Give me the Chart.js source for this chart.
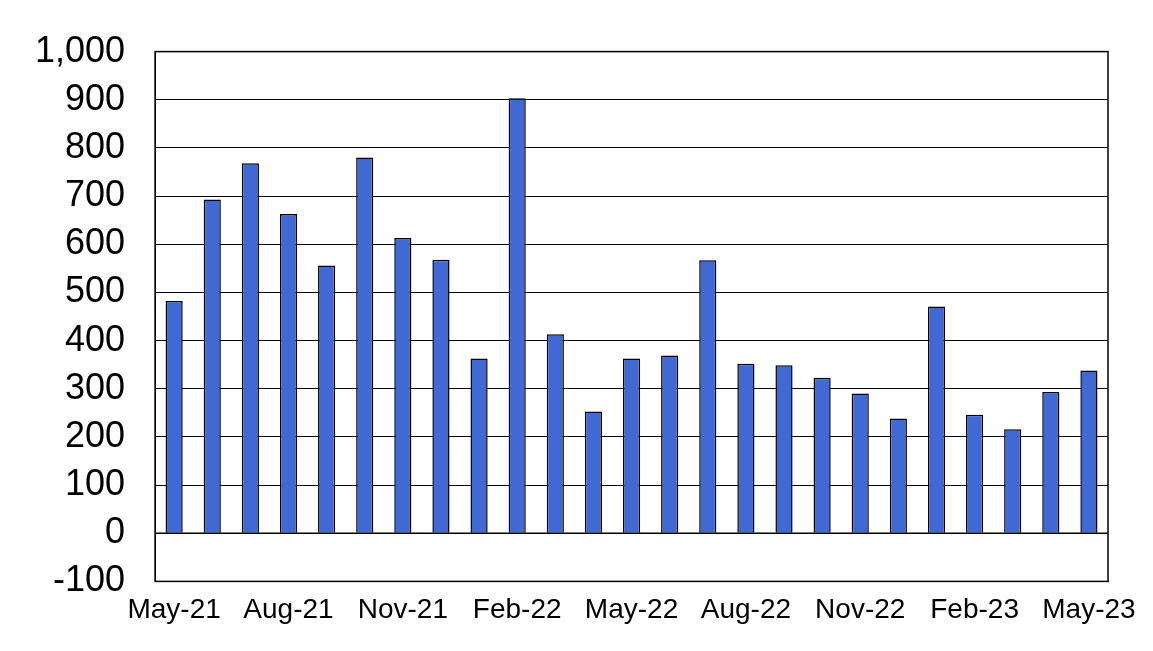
<!DOCTYPE html>
<html><head><script src="https://cdn.jsdelivr.net/npm/chart.js"></script>
<style>body{margin:0;background:#fff}#w{width:1153px;height:651px}</style></head>
<body><div id="w"><canvas id="c"></canvas></div>
<script>
const categories=["May-21","Jun-21","Jul-21","Aug-21","Sep-21","Oct-21","Nov-21","Dec-21","Jan-22","Feb-22","Mar-22","Apr-22","May-22","Jun-22","Jul-22","Aug-22","Sep-22","Oct-22","Nov-22","Dec-22","Jan-23","Feb-23","Mar-23","Apr-23","May-23"];
const values=[482,693,768,663,556,780,613,568,363,903,413,253,363,369,567,352,349,323,290,238,471,246,216,293,338];
const frame={id:'frame',afterDraw(ch){const a=ch.chartArea,c=ch.ctx;c.save();c.strokeStyle='#000';c.lineWidth=1.5;c.strokeRect(a.left,a.top,a.right-a.left,a.bottom-a.top);
const y0=ch.scales.y.getPixelForValue(0);c.beginPath();c.moveTo(a.left,y0);c.lineTo(a.right,y0);c.stroke();c.restore();}};
new Chart(document.getElementById('c'),{type:'bar',data:{labels:categories,datasets:[{data:values,backgroundColor:'#4169D4',borderColor:'#000',borderWidth:1.5,barPercentage:0.45,categoryPercentage:1}]},
options:{responsive:true,maintainAspectRatio:false,animation:false,layout:{padding:{top:38,right:45,left:5,bottom:20}},
plugins:{legend:{display:false},tooltip:{enabled:false}},
scales:{x:{grid:{display:false},border:{color:'#000'},ticks:{autoSkip:false,maxRotation:0,padding:4,color:'#000',font:{family:'Liberation Sans',size:28},callback:(v,i)=>i%3===0?categories[i]:''}},
y:{min:-100,max:1000,grid:{color:'#000',lineWidth:1,drawTicks:false},border:{color:'#000'},ticks:{stepSize:100,padding:30,color:'#000',font:{family:'Liberation Sans',size:36}}}}},plugins:[frame]});
</script></body></html>
